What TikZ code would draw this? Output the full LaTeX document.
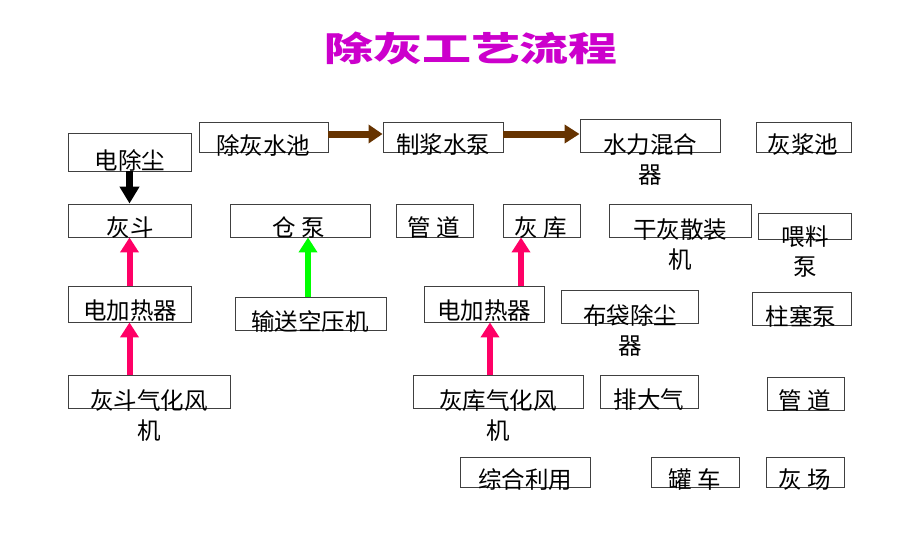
\documentclass[tikz,border=0pt]{standalone}
\usepackage{fontspec}
\newfontfamily\cjk{Noto Sans CJK SC}
\usetikzlibrary{arrows.meta,calc}
\definecolor{titlemag}{HTML}{CC00CC}
\definecolor{arrpink}{HTML}{FF0066}
\definecolor{arrgreen}{HTML}{00FF00}
\definecolor{arrbrown}{HTML}{663300}
\begin{document}
\begin{tikzpicture}[x=1pt,y=-1pt,
  box/.style 2 args={draw=black!75, line width=0.9pt, inner sep=0pt, minimum width=#1, minimum height=#2},
  txt/.style={font=\cjk\fontsize{23.5}{30}\selectfont, inner sep=0pt, align=center, yshift=-3pt},
  flow/.style={line width=6pt, -{Triangle[width=18pt,length=15pt]}},
  bigflow/.style={line width=7pt, -{Triangle[width=19pt,length=17pt]}}
]
\useasboundingbox[fill=white] (0,0) rectangle (920,549);
% title
\node[font=\cjk\bfseries\fontsize{34}{40}\selectfont, text=titlemag, inner sep=0pt] (title) at (471,48) {\scalebox{1.44}[1]{除灰工艺流程}};
% boxes
\node[box={123pt}{38pt}] (dcc) at (129.5,152) {};
\node[box={129pt}{30pt}] (chsc) at (263.5,137) {};
\node[box={120pt}{30pt}] (zjsb) at (443,137) {};
\node[box={140pt}{33pt}] (slhh) at (650,135.5) {};
\node[box={95pt}{30pt}] (hjc) at (803.5,137) {};
\node[box={123pt}{33pt}] (hd) at (129.5,220.5) {};
\node[box={140pt}{33pt}] (cb) at (300,220.5) {};
\node[box={77pt}{33pt}] (gd1) at (434.5,220.5) {};
\node[box={77pt}{33pt}] (hk) at (541.5,220.5) {};
\node[box={142pt}{33pt}] (ghsz) at (680,220.5) {};
\node[box={93pt}{26pt}] (wlb) at (804.5,226) {};
\node[box={123pt}{36pt}] (djr1) at (129.5,304) {};
\node[box={151pt}{33pt}] (sskyj) at (310.5,313.5) {};
\node[box={120pt}{36pt}] (djr2) at (484,304) {};
\node[box={137pt}{33pt}] (bdcc) at (629.5,306.5) {};
\node[box={99pt}{33pt}] (zsb) at (801.5,308.5) {};
\node[box={162pt}{33pt}] (hdqh) at (149,391.5) {};
\node[box={170pt}{33pt}] (hkqh) at (498,391.5) {};
\node[box={98pt}{33pt}] (pdq) at (649,391.5) {};
\node[box={77pt}{33pt}] (gd2) at (805.5,393.5) {};
\node[box={130pt}{30pt}] (zhly) at (525,472) {};
\node[box={88pt}{30pt}] (gc) at (695,472) {};
\node[box={78pt}{30pt}] (hc) at (805,472) {};
% texts
\node[txt] (tdcc) at (130,157) {电除尘};
\node[txt] (tchsc) at (263,142) {除灰水池};
\node[txt] (tzjsb) at (443,142) {制浆水泵};
\node[txt] (tslhh) at (650,156.5) {水力混合\\器};
\node[txt] (thjc) at (803,142) {灰浆池};
\node[txt] (thd) at (130,225) {灰斗};
\node[txt] (tcb) at (299,225) {仓 泵};
\node[txt] (tgd1) at (434,225) {管 道};
\node[txt] (thk) at (541,225) {灰 库};
\node[txt] (tghsz) at (680,242) {干灰散装\\机};
\node[txt] (twlb) at (805,249) {喂料\\泵};
\node[txt] (tdjr1) at (130,308) {电加热器};
\node[txt] (tsskyj) at (310,319) {输送空压机};
\node[txt] (tdjr2) at (484,308) {电加热器};
\node[txt] (tbdcc) at (630,327.5) {布袋除尘\\器};
\node[txt] (tzsb) at (801,313) {柱塞泵};
\node[txt] (thdqh) at (149,413) {灰斗气化风\\机};
\node[txt] (thkqh) at (498,413) {灰库气化风\\机};
\node[txt] (tpdq) at (649,397) {排大气};
\node[txt] (tgd2) at (805,398) {管 道};
\node[txt] (tzhly) at (525,477) {综合利用};
\node[txt] (tgc) at (695,477) {罐 车};
\node[txt] (thc) at (805,477) {灰 场};
% arrows
\draw[bigflow, black] (dcc.south) -- (hd.north);
\draw[flow, arrpink] (djr1.north) -- (hd.south);
\draw[flow, arrpink] (djr1.south |- hdqh.north) -- (djr1.south);
\draw[flow, arrgreen] ([xshift=-2.5pt]sskyj.north) -- ([xshift=-2.5pt]sskyj.north |- cb.south);
\coordinate (p3) at ([xshift=37pt]djr2.north);
\draw[flow, arrpink] (p3) -- (p3 |- hk.south);
\coordinate (p4) at ([xshift=-8pt]hkqh.north);
\draw[flow, arrpink] (p4) -- (p4 |- djr2.south);
\draw[line width=7pt, arrbrown, -{Triangle[width=18pt,length=14pt]}] ([yshift=3pt]chsc.east) -- ([yshift=3pt]chsc.east -| zjsb.west);
\draw[line width=7pt, arrbrown, -{Triangle[width=18pt,length=15pt]}] ([yshift=3pt]zjsb.east) -- ([yshift=3pt]zjsb.east -| slhh.west);
\end{tikzpicture}
\end{document}
